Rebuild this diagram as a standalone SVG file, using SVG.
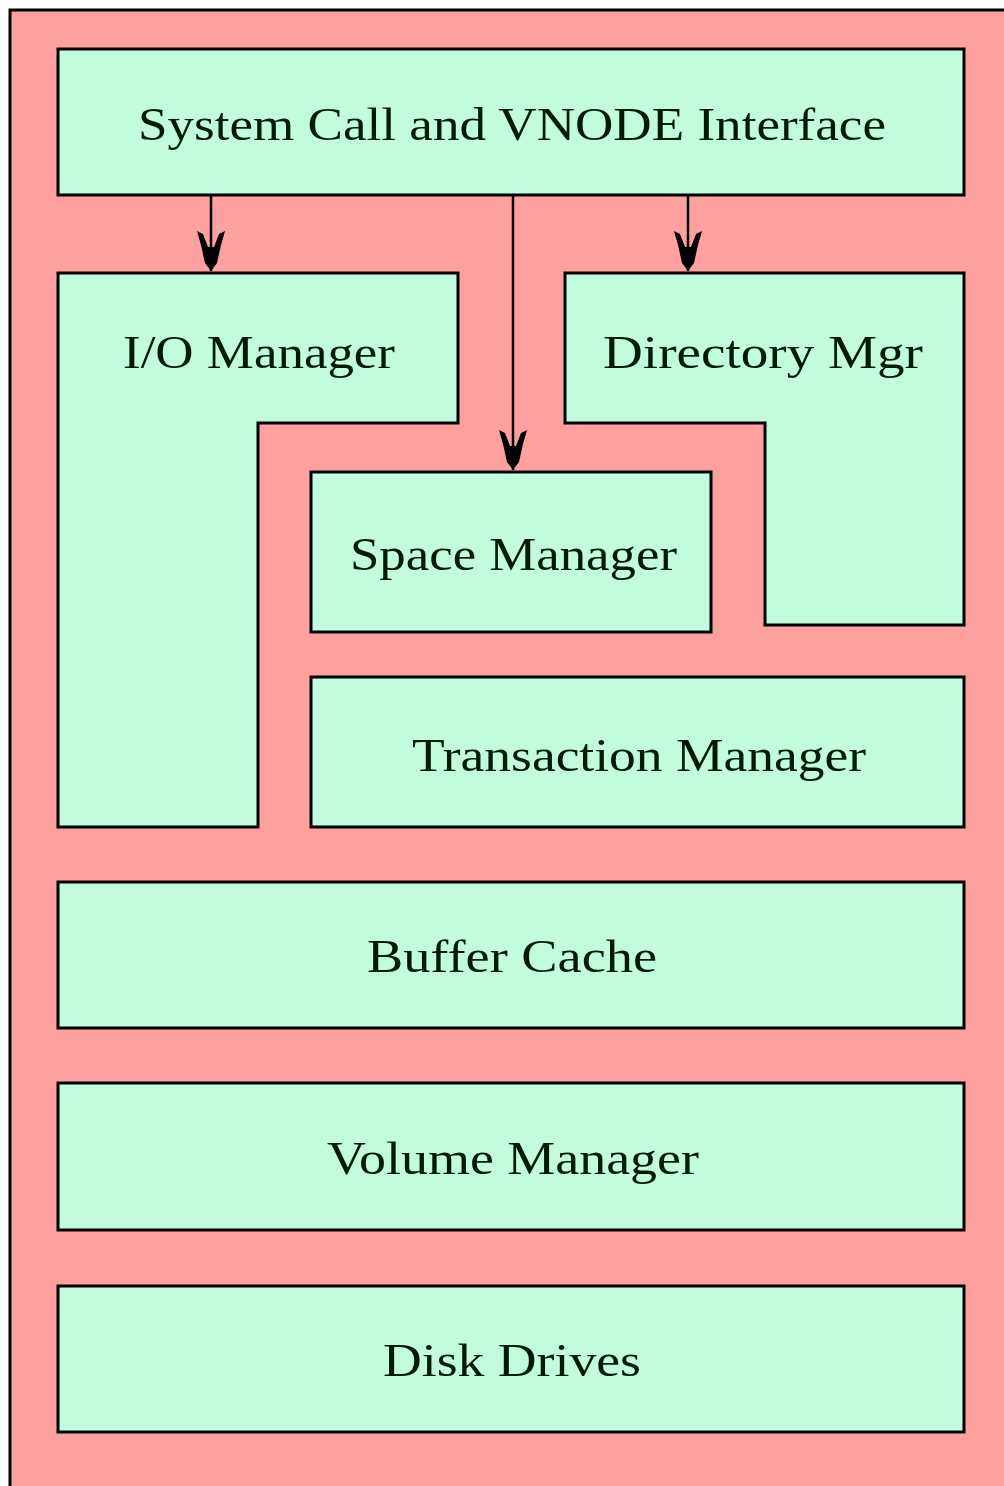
<svg xmlns="http://www.w3.org/2000/svg" width="1004" height="1486" viewBox="0 0 1004 1486">
  <defs>
    <style>
      .box { fill: #c2fcdc; stroke: #000; stroke-width: 3; stroke-linejoin: miter; }
      .lbl { font-family: "Liberation Serif", "DejaVu Serif", serif; font-size: 46px; fill: #001a0a; }
      .wire { stroke: #000; stroke-width: 2.5; fill: none; }
    </style>
    <!-- barbed arrowhead with solid body, drawn pointing along +x -->
    <marker id="barb" viewBox="-44 -16 46 32" refX="0" refY="0" markerWidth="46" markerHeight="32" markerUnits="userSpaceOnUse" orient="auto">
      <polygon points="0,0 -8,-6 -26,-10 -40,-14 -37,-8 -24,-3 -24,3 -37,8 -40,14 -26,10 -8,6" fill="#000"/>
    </marker>
  </defs>

  <rect x="0" y="0" width="1004" height="1486" fill="#fff"/>
  <!-- outer frame -->
  <rect x="10" y="10" width="1010" height="1500" fill="#ffa0a0" stroke="#000" stroke-width="3"/>

  <g id="syscall">
    <rect class="box" x="58" y="49" width="906" height="146"/>
    <text class="lbl" x="138" y="140" textLength="748" lengthAdjust="spacingAndGlyphs">System Call and VNODE Interface</text>
  </g>

  <g id="io-manager">
    <path class="box" d="M58,273 H458 V423 H258 V827 H58 Z"/>
    <text class="lbl" x="123" y="368" textLength="272" lengthAdjust="spacingAndGlyphs">I/O Manager</text>
  </g>

  <g id="directory-mgr">
    <path class="box" d="M565,273 H964 V625 H765 V423 H565 Z"/>
    <text class="lbl" x="603" y="368" textLength="320" lengthAdjust="spacingAndGlyphs">Directory Mgr</text>
  </g>

  <g id="space-manager">
    <rect class="box" x="311" y="472" width="400" height="160"/>
    <text class="lbl" x="350" y="570" textLength="327" lengthAdjust="spacingAndGlyphs">Space Manager</text>
  </g>

  <g id="transaction-manager">
    <rect class="box" x="311" y="677" width="653" height="150"/>
    <text class="lbl" x="412" y="771" textLength="454" lengthAdjust="spacingAndGlyphs">Transaction Manager</text>
  </g>

  <g id="buffer-cache">
    <rect class="box" x="58" y="882" width="906" height="146"/>
    <text class="lbl" x="367" y="972" textLength="290" lengthAdjust="spacingAndGlyphs">Buffer Cache</text>
  </g>

  <g id="volume-manager">
    <rect class="box" x="58" y="1083" width="906" height="147"/>
    <text class="lbl" x="327" y="1174" textLength="372" lengthAdjust="spacingAndGlyphs">Volume Manager</text>
  </g>

  <g id="disk-drives">
    <rect class="box" x="58" y="1286" width="906" height="146"/>
    <text class="lbl" x="383" y="1376" textLength="258" lengthAdjust="spacingAndGlyphs">Disk Drives</text>
  </g>

  <g id="connectors">
    <line class="wire" x1="211" y1="196" x2="211" y2="271" marker-end="url(#barb)"/>
    <line class="wire" x1="688" y1="196" x2="688" y2="271" marker-end="url(#barb)"/>
    <line class="wire" x1="513" y1="196" x2="513" y2="470" marker-end="url(#barb)"/>
  </g>
</svg>
